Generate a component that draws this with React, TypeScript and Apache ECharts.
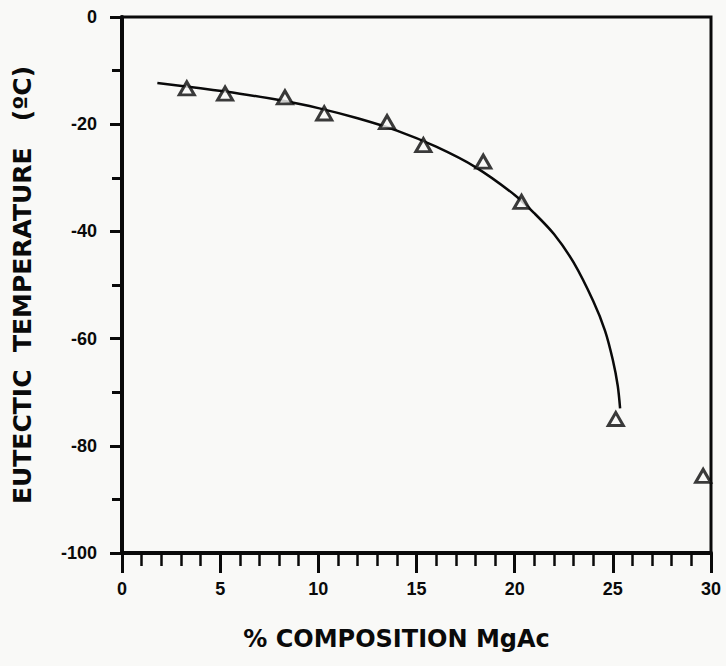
import React, { useEffect, useRef } from "react";
import * as echarts from "echarts";

// Measured eutectic points (triangles)
const compX: number[] = [3.3, 5.25, 8.3, 10.3, 13.5, 15.35, 18.4, 20.35, 25.15, 29.6];
const tempY: number[] = [-13.3, -14.3, -15.0, -18.0, -19.6, -23.9, -27.0, -34.5, -75.0, -85.6];

// Hand-drawn fitted curve, read along its path
const curveX: number[] = [1.8, 4, 6, 8, 10, 12, 14, 16, 18, 20, 21, 22, 23, 24, 24.6, 25.0, 25.25, 25.37];
const curveY: number[] = [-12.3, -13.3, -14.3, -15.5, -17.0, -18.9, -21.2, -24.2, -28.0, -33.2, -36.6, -40.5, -45.8, -53.0, -58.5, -64.0, -68.8, -73.0];

const xTicks = { min: 0, max: 30, interval: 5 };
const yTicks = { min: -100, max: 0, interval: 20 };

const FONT = "Liberation Sans, Arial, Helvetica, sans-serif";
const TITLE_FONT = "DejaVu Sans, Liberation Sans, sans-serif";
const BG = "#f9f9f7";
const INK = "#0a0a0a";

export default function App() {
  const ref = useRef<HTMLDivElement>(null);
  useEffect(() => {
    if (!ref.current) return;
    const chart = echarts.init(ref.current, undefined, { renderer: "svg" });
    chart.setOption({
      animation: false,
      backgroundColor: BG,
      grid: {
        left: 122,
        right: 15,
        top: 17,
        bottom: 113,
        show: true,
        borderColor: INK,
        borderWidth: 3,
        backgroundColor: "transparent",
      },
      xAxis: {
        type: "value",
        min: xTicks.min,
        max: xTicks.max,
        interval: xTicks.interval,
        name: "% COMPOSITION MgAc",
        nameLocation: "middle",
        nameGap: 74,
        nameTextStyle: { fontFamily: TITLE_FONT, fontWeight: "bold", fontSize: 24, color: INK, padding: [0, 40, 0, 0] },
        axisLine: { show: true, onZero: false, lineStyle: { color: INK, width: 4 } },
        axisTick: { show: true, inside: false, length: 20, lineStyle: { color: INK, width: 3 } },
        minorTick: { show: true, splitNumber: 5, length: 13, lineStyle: { color: INK, width: 2.5 } },
        splitLine: { show: false },
        axisLabel: { margin: 27, fontFamily: FONT, fontWeight: "bold", fontSize: 18, color: INK },
      },
      yAxis: {
        type: "value",
        min: yTicks.min,
        max: yTicks.max,
        interval: yTicks.interval,
        name: "EUTECTIC  TEMPERATURE   (ºC)",
        nameLocation: "middle",
        nameGap: 87,
        nameTextStyle: { fontFamily: TITLE_FONT, fontWeight: "bold", fontSize: 25, color: INK },
        axisLine: { show: true, onZero: false, lineStyle: { color: INK, width: 4 } },
        axisTick: { show: true, inside: false, length: 12, lineStyle: { color: INK, width: 3 } },
        minorTick: { show: true, splitNumber: 2, length: 10, lineStyle: { color: INK, width: 3 } },
        splitLine: { show: false },
        axisLabel: { margin: 25, fontFamily: FONT, fontWeight: "bold", fontSize: 18, color: INK },
      },
      series: [
        {
          type: "line",
          data: curveX.map((x, i) => [x, curveY[i]]),
          smooth: 0.3,
          showSymbol: false,
          symbol: "none",
          lineStyle: { color: INK, width: 2.5 },
          z: 2,
        },
        {
          type: "scatter",
          data: compX.map((x, i) => [x, tempY[i]]),
          symbol: "triangle",
          symbolSize: [15, 13],
          itemStyle: { color: BG, borderColor: INK, borderWidth: 3 },
          z: 3,
        },
      ],
    });
    return () => chart.dispose();
  }, []);
  return <div ref={ref} style={{ position: "fixed", left: 0, top: 0, width: 726, height: 666 }} />;
}
